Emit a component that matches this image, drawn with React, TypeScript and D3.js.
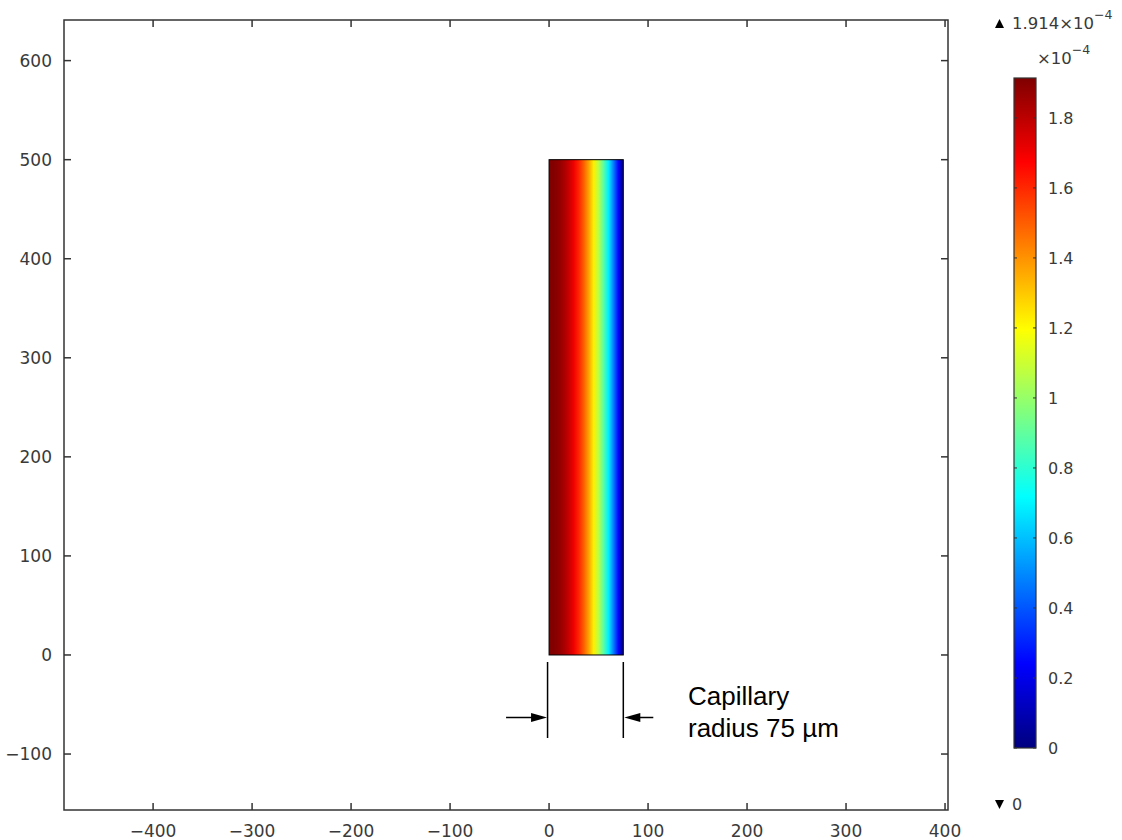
import React, { useEffect, useRef } from 'react';
import * as d3 from 'd3';

// radial position (µm) and concentration (x1e-4) read across the capillary
const radius = [0, 5, 10, 15, 20, 25, 30, 35, 40, 45, 50, 55, 60, 65, 70, 75];
const conc = [1.914, 1.905, 1.88, 1.837, 1.778, 1.701, 1.608, 1.497, 1.37, 1.225, 1.063, 0.885, 0.689, 0.476, 0.247, 0];
const capillaryTop = 500;

const xTicks = [-400, -300, -200, -100, 0, 100, 200, 300, 400];
const yTicks = [-100, 0, 100, 200, 300, 400, 500, 600];
const barTicks = [0, 0.2, 0.4, 0.6, 0.8, 1, 1.2, 1.4, 1.6, 1.8];
const cMax = 1.914;

const jetStops = [0, 0.125, 0.375, 0.625, 0.875, 1];
const jetColors = ['#00007f', '#0000ff', '#00ffff', '#ffff00', '#ff0000', '#7f0000'];

function App() {
  const ref = useRef<SVGSVGElement>(null);

  useEffect(() => {
    const svg = d3.select(ref.current);
    svg.selectAll('*').remove();

    const left = 64, right = 948, top = 20, bottom = 810;
    const x = d3.scaleLinear().domain([-490, 403]).range([left, right]);
    const y = d3.scaleLinear().domain([-156.5, 641]).range([bottom, top]);
    const jet = d3.scaleLinear<string>().domain(jetStops).range(jetColors).clamp(true);
    const axisFont = 'DejaVu Sans, sans-serif';
    const ink = '#333';
    const txt = '#3a3a3a';

    const defs = svg.append('defs');
    const grad = defs.append('linearGradient').attr('id', 'radial')
      .attr('x1', '0%').attr('x2', '100%').attr('y1', '0%').attr('y2', '0%');
    radius.forEach((r, i) => {
      grad.append('stop')
        .attr('offset', `${(r / radius[radius.length - 1]) * 100}%`)
        .attr('stop-color', jet(conc[i] / cMax));
    });

    // capillary
    svg.append('rect')
      .attr('x', x(0)).attr('y', y(capillaryTop))
      .attr('width', x(radius[radius.length - 1]) - x(0))
      .attr('height', y(0) - y(capillaryTop))
      .attr('fill', 'url(#radial)')
      .attr('stroke', '#000').attr('stroke-width', 1);

    // frame
    svg.append('rect')
      .attr('x', left).attr('y', top).attr('width', right - left).attr('height', bottom - top)
      .attr('fill', 'none').attr('stroke', ink).attr('stroke-width', 1.5);

    const tl = 7;
    const fmt = d3.format('');
    xTicks.forEach(t => {
      svg.append('line').attr('x1', x(t)).attr('x2', x(t)).attr('y1', bottom).attr('y2', bottom - tl)
        .attr('stroke', ink).attr('stroke-width', 1.5);
      svg.append('line').attr('x1', x(t)).attr('x2', x(t)).attr('y1', top).attr('y2', top + tl)
        .attr('stroke', ink).attr('stroke-width', 1.5);
      svg.append('text').attr('x', x(t)).attr('y', 837).attr('text-anchor', 'middle')
        .attr('font-family', axisFont).attr('font-size', 17).attr('fill', txt)
        .text(fmt(t));
    });
    yTicks.forEach(t => {
      svg.append('line').attr('x1', left).attr('x2', left + tl).attr('y1', y(t)).attr('y2', y(t))
        .attr('stroke', ink).attr('stroke-width', 1.5);
      svg.append('line').attr('x1', right).attr('x2', right - tl).attr('y1', y(t)).attr('y2', y(t))
        .attr('stroke', ink).attr('stroke-width', 1.5);
      svg.append('text').attr('x', 52).attr('y', y(t)).attr('dy', '0.35em').attr('text-anchor', 'end')
        .attr('font-family', axisFont).attr('font-size', 17).attr('fill', txt)
        .text(fmt(t));
    });

    // dimension lines
    const dimTop = 662, dimBottom = 738, arrowY = 717.5;
    [0, 75].forEach(r => {
      svg.append('line').attr('x1', x(r) - (r === 0 ? 1.5 : 0)).attr('x2', x(r) - (r === 0 ? 1.5 : 0))
        .attr('y1', dimTop).attr('y2', dimBottom).attr('stroke', '#000').attr('stroke-width', 1.5);
    });
    const arrow = (from: number, to: number) => {
      const dir = Math.sign(to - from);
      svg.append('line').attr('x1', from).attr('x2', to - dir * 10).attr('y1', arrowY).attr('y2', arrowY)
        .attr('stroke', '#000').attr('stroke-width', 1.5);
      svg.append('path')
        .attr('d', `M${to},${arrowY}L${to - dir * 16},${arrowY - 4.5}L${to - dir * 16},${arrowY + 4.5}Z`)
        .attr('fill', '#000');
    };
    arrow(x(0) - 43, x(0) - 2);
    arrow(x(75) + 30, x(75) + 1);

    const ann = svg.append('text').attr('font-family', 'Liberation Sans, Arial, sans-serif')
      .attr('font-size', 26).attr('fill', '#000');
    ann.append('tspan').attr('x', 688).attr('y', 705).text('Capillary');
    ann.append('tspan').attr('x', 688).attr('y', 737).text('radius 75 µm');

    // colour bar
    const cb = d3.scaleLinear().domain([0, cMax]).range([748, 78]);
    const bx = 1014, bw = 22;
    const cgrad = defs.append('linearGradient').attr('id', 'cbar')
      .attr('x1', '0%').attr('x2', '0%').attr('y1', '100%').attr('y2', '0%');
    jetStops.forEach((s, i) => {
      cgrad.append('stop').attr('offset', `${s * 100}%`).attr('stop-color', jetColors[i]);
    });
    svg.append('rect').attr('x', bx).attr('y', cb(cMax)).attr('width', bw).attr('height', cb(0) - cb(cMax))
      .attr('fill', 'url(#cbar)').attr('stroke', ink).attr('stroke-width', 1.2);
    barTicks.forEach(t => {
      svg.append('line').attr('x1', bx).attr('x2', bx + 3).attr('y1', cb(t)).attr('y2', cb(t))
        .attr('stroke', ink).attr('stroke-width', 1);
      svg.append('line').attr('x1', bx + bw).attr('x2', bx + bw - 3).attr('y1', cb(t)).attr('y2', cb(t))
        .attr('stroke', ink).attr('stroke-width', 1);
      svg.append('text').attr('x', 1048).attr('y', cb(t)).attr('dy', '0.35em')
        .attr('font-family', axisFont).attr('font-size', 16).attr('fill', txt)
        .text(String(+t.toFixed(1)));
    });

    // max / min labels
    svg.append('path').attr('d', 'M999.5,19L995,28L1004,28Z').attr('fill', '#000');
    const maxT = svg.append('text').attr('x', 1012).attr('y', 29)
      .attr('font-family', axisFont).attr('font-size', 16.5).attr('fill', txt);
    maxT.append('tspan').text('1.914×10');
    maxT.append('tspan').attr('dy', -10).attr('font-size', 12.5).text('−4');

    const expT = svg.append('text').attr('x', 1037).attr('y', 64)
      .attr('font-family', axisFont).attr('font-size', 16.5).attr('fill', txt);
    expT.append('tspan').text('×10');
    expT.append('tspan').attr('dy', -10).attr('font-size', 12.5).text('−4');

    svg.append('path').attr('d', 'M995,800L1004,800L999.5,809Z').attr('fill', '#000');
    svg.append('text').attr('x', 1012).attr('y', 810)
      .attr('font-family', axisFont).attr('font-size', 16).attr('fill', txt).text('0');
  }, []);

  return (
    <svg ref={ref} width={1122} height={840}
      style={{ position: 'absolute', left: 0, top: 0, background: '#fff' }} />
  );
}

export default App;
